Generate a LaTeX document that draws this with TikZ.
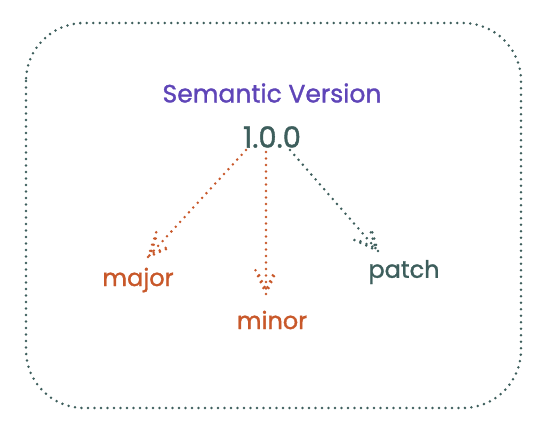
\documentclass[tikz,border=0pt]{standalone}
\usepackage{fontspec}
\setmainfont{Poppins}[BoldFont=Poppins, BoldFeatures={FakeBold=1.3}]
\usetikzlibrary{calc}
\definecolor{cpurple}{HTML}{5F45B8}
\definecolor{corange}{HTML}{C8582A}
\definecolor{cteal}{HTML}{3D5E5C}
\tikzset{
  dotline/.style={line width=2.8pt, line cap=round, dash pattern=on 0pt off 6.5pt},
  lbl/.style={inner sep=1pt, font=\bfseries\fontsize{24}{27}\selectfont}
}
\newcommand{\dotarrow}[3]{%
  \draw[dotline, #3] (#1) -- (#2);
  \draw[dotline, #3] ($(#2)!26pt!24:(#1)$) -- (#2) -- ($(#2)!26pt!-24:(#1)$);
  \draw[dotline, #3] ($(#2)!20pt!20:(#1)$) -- ($(#2)!4pt!0:(#1)$) -- ($(#2)!20pt!-20:(#1)$);
}
\begin{document}
\begin{tikzpicture}[x=1pt,y=-1pt]
\useasboundingbox (0,0) rectangle (545,437);
\draw[dotline, cteal, rounded corners=58pt] (26,23) rectangle (521,408);
\node[inner sep=0pt, text=cpurple, font=\bfseries\fontsize{25}{28}\selectfont] (title) at (272,93) {Semantic Version};
\node[inner sep=2pt, text=cteal, font=\bfseries\fontsize{29}{32}\selectfont] (ver) at (272,137) {1.0.0};
\node[lbl, text=corange] (major) at (138,280) {major};
\node[lbl, text=corange] (minor) at (272,320) {minor};
\node[lbl, text=cteal] (patch) at (404,272) {patch};
\coordinate (s1) at (246,150);
\coordinate (s2) at (266,152);
\coordinate (s3) at (290,150);
\coordinate (e1) at (148,257);
\coordinate (e2) at (266,294);
\coordinate (e3) at (378,251);
\dotarrow{s1}{e1}{corange}
\dotarrow{s2}{e2}{corange}
\dotarrow{s3}{e3}{cteal}
\end{tikzpicture}
\end{document}
